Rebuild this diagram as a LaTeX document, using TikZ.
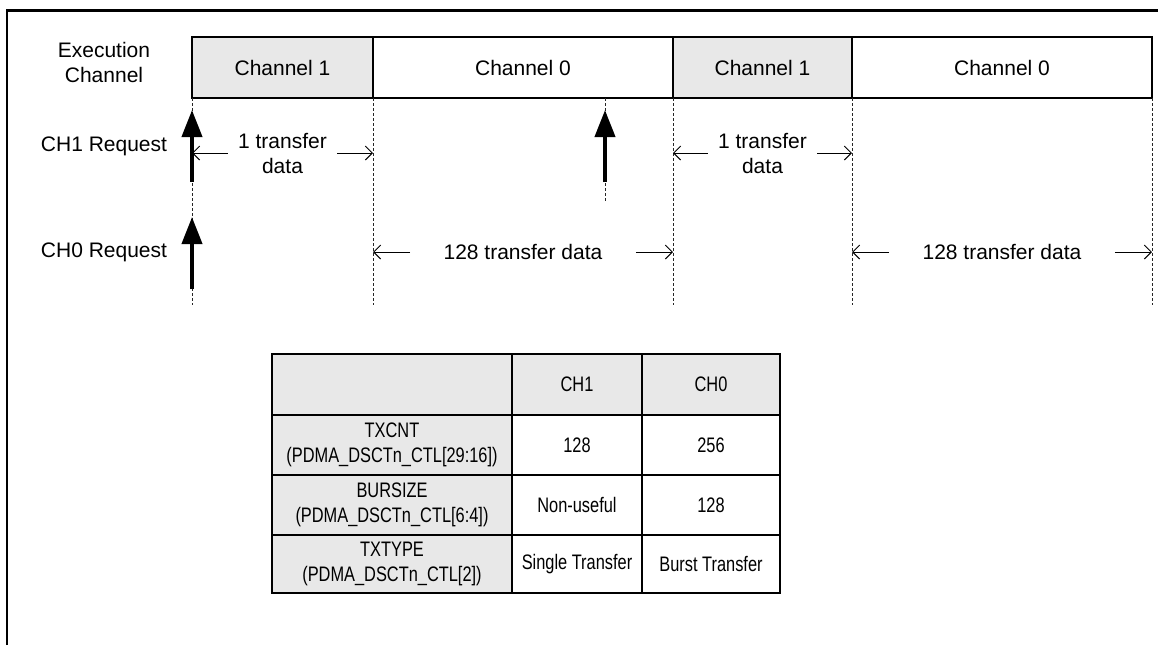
\documentclass[tikz,border=0pt]{standalone}
\usepackage{fontspec}
\setmainfont{Liberation Sans}
\newfontfamily\narrowfont[FakeStretch=0.78]{Liberation Sans}
\usetikzlibrary{arrows.meta}
\definecolor{cellgray}{HTML}{E8E8E8}
\tikzset{
  frame/.style={line width=1.1pt},
  chbox/.style={draw, line width=0.75pt, anchor=west, minimum height=30.5pt, inner sep=0pt, outer sep=0pt, font=\fontsize{10.5}{12.5}\selectfont},
  guide/.style={dash pattern=on 1.5pt off 1pt, line width=0.45pt, black!85},
  req/.style={line width=2pt, -{Triangle[width=10pt,length=13.5pt]}},
  span/.style={line width=0.5pt, -{Straight Barb[length=3.5pt,width=7pt]}},
  lbl/.style={align=center, font=\fontsize{10.5}{12.5}\selectfont, inner sep=0pt},
  cell/.style={draw, line width=0.8pt, anchor=north west, inner sep=0pt, outer sep=0pt, align=center, font=\narrowfont\fontsize{10.5}{12.5}\selectfont},
}
\begin{document}
\begin{tikzpicture}[x=0.5pt,y=-0.5pt]
\useasboundingbox (0,0) rectangle (1158,645);
% outer frame (cut off at right and bottom)
\draw[frame] (7,645) |- (1158,10.5);

% execution channel bar
\node[chbox, fill=cellgray, minimum width=90.5pt] (b1) at (192,67.5) {Channel 1};
\node[chbox, minimum width=150pt] (b2) at (373,67.5) {Channel 0};
\node[chbox, fill=cellgray, minimum width=89.5pt] (b3) at (673,67.5) {Channel 1};
\node[chbox, minimum width=150pt] (b4) at (852,67.5) {Channel 0};

% row labels
\node[lbl] (lexe) at (104,62) {Execution\\Channel};
\node[lbl] (lch1) at (104,146) {CH1 Request};
\node[lbl] (lch0) at (104,252) {CH0 Request};

% dashed guides
\coordinate (gl) at (0,305);
\coordinate (gm) at (0,202);
\coordinate (gt) at (0,98);
\coordinate (gx) at (605,0);
\draw[guide] (b1.south west) -- (b1.south west |- gl);
\draw[guide] (b2.south west) -- (b2.south west |- gl);
\draw[guide] (b3.south west) -- (b3.south west |- gl);
\draw[guide] (b4.south west) -- (b4.south west |- gl);
\draw[guide] (b4.south east) -- (b4.south east |- gl);
\draw[guide] (gx |- gt) -- (gx |- gm);

% request arrows
\coordinate (r1s) at (192,182);
\coordinate (r1t) at (192,110);
\coordinate (r0s) at (192,289);
\coordinate (r0t) at (192,217);
\coordinate (r2s) at (605,182);
\coordinate (r2t) at (605,110);
\draw[req] (r1s) -- (r1t);
\draw[req] (r0s) -- (r0t);
\draw[req] (r2s) -- (r2t);

% span labels
\node[lbl, inner xsep=5pt] (s1) at (282.5,153) {1 transfer\\data};
\node[lbl, inner xsep=5pt] (s3) at (762.5,153) {1 transfer\\data};
\node[lbl, inner xsep=16.5pt] (s2) at (523,252) {128 transfer data};
\node[lbl, inner xsep=16.5pt] (s4) at (1002,252) {128 transfer data};
\draw[span] (s1.west) -- (s1.west -| b1.south west);
\draw[span] (s1.east) -- (s1.east -| b2.south west);
\draw[span] (s3.west) -- (s3.west -| b3.south west);
\draw[span] (s3.east) -- (s3.east -| b4.south west);
\draw[span] (s2.west) -- (s2.west -| b2.south west);
\draw[span] (s2.east) -- (s2.east -| b3.south west);
\draw[span] (s4.west) -- (s4.west -| b4.south west);
\draw[span] (s4.east) -- (s4.east -| b4.south east);

% table
\node[cell, fill=cellgray, minimum width=120pt, minimum height=30.5pt] (h0) at (272,354) {};
\node[cell, fill=cellgray, minimum width=65pt, minimum height=30.5pt] (h1) at (512,354) {CH1};
\node[cell, fill=cellgray, minimum width=69pt, minimum height=30.5pt] (h2) at (642,354) {CH0};

\node[cell, fill=cellgray, minimum width=120pt, minimum height=30pt] (a0) at (272,415) {TXCNT\\(PDMA\_DSCTn\_CTL[29:16])};
\node[cell, minimum width=65pt, minimum height=30pt] (a1) at (512,415) {128};
\node[cell, minimum width=69pt, minimum height=30pt] (a2) at (642,415) {256};

\node[cell, fill=cellgray, minimum width=120pt, minimum height=30pt] (c0) at (272,475) {BURSIZE\\(PDMA\_DSCTn\_CTL[6:4])};
\node[cell, minimum width=65pt, minimum height=30pt] (c1) at (512,475) {Non-useful};
\node[cell, minimum width=69pt, minimum height=30pt] (c2) at (642,475) {128};

\node[cell, fill=cellgray, minimum width=120pt, minimum height=29pt] (e0) at (272,535) {TXTYPE\\(PDMA\_DSCTn\_CTL[2])};
\node[cell, minimum width=65pt, minimum height=29pt] (e1) at (512,535) {Single Transfer};
\node[cell, minimum width=69pt, minimum height=29pt] (e2) at (642,535) {Burst Transfer};
\end{tikzpicture}
\end{document}
